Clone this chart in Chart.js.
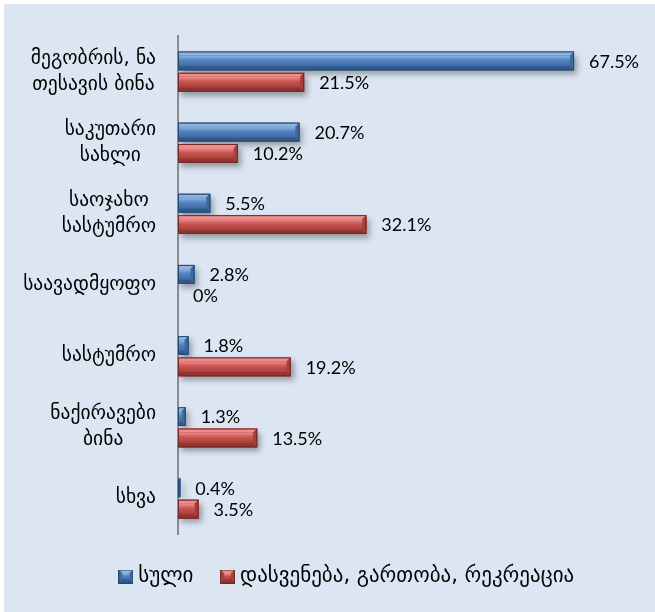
<!DOCTYPE html>
<html>
<head>
<meta charset="utf-8">
<script src="https://cdn.jsdelivr.net/npm/chart.js@4"></script>
<style>
  html, body { margin: 0; padding: 0; background: #fff; }
  #wrap { width: 655px; height: 612px; position: relative; }
</style>
</head>
<body>
<div id="wrap"><canvas id="chart"></canvas></div>
<script>
// მონაცემები
const categories = [
  ['მეგობრის, ნა', 'თესავის ბინა'],
  ['საკუთარი', 'სახლი'],
  ['საოჯახო', 'სასტუმრო'],
  'საავადმყოფო',
  'სასტუმრო',
  ['ნაქირავები', 'ბინა'],
  'სხვა'
];
const seriesNames = ['სული', 'დასვენება, გართობა, რეკრეაცია'];
const totalValues = [67.5, 20.7, 5.5, 2.8, 1.8, 1.3, 0.4];
const leisureValues = [21.5, 10.2, 32.1, 0, 19.2, 13.5, 3.5];
const xMax = 81.3;

const GEO_FONT = "'DejaVu Sans', sans-serif";
const NUM_FONT = "Lato, 'Open Sans', sans-serif";

const palettes = [
  { light: '#8fb3e0', face: '#5283c0', dark: '#315a8c', side: '#3d6aa3', edge: '#27476f' },
  { light: '#ec8f8c', face: '#c9534f', dark: '#913533', side: '#a83f3c', edge: '#722826' }
];

// 3D ზოლის დახატვა
function drawBevel(ctx, l, t, r, b, pal, leftBevel) {
  const w = r - l, h = b - t;
  if (w <= 0) return;
  const bv = Math.min(4, h / 3, w / 2);
  const lb = leftBevel ? bv : 0;
  ctx.save();
  ctx.fillStyle = pal.dark;
  ctx.fillRect(l, t, w, h);
  const poly = (pts, color) => {
    ctx.beginPath();
    ctx.moveTo(pts[0][0], pts[0][1]);
    pts.slice(1).forEach(p => ctx.lineTo(p[0], p[1]));
    ctx.closePath();
    ctx.fillStyle = color;
    ctx.fill();
  };
  poly([[l, t], [r, t], [r - bv, t + bv], [l + lb, t + bv]], pal.light);
  poly([[l, b], [r, b], [r - bv, b - bv], [l + lb, b - bv]], pal.dark);
  poly([[r, t], [r, b], [r - bv, b - bv], [r - bv, t + bv]], pal.side);
  if (leftBevel) poly([[l, t], [l, b], [l + bv, b - bv], [l + bv, t + bv]], pal.side);
  const g = ctx.createLinearGradient(0, t + bv, 0, b - bv);
  g.addColorStop(0, pal.light);
  g.addColorStop(0.45, pal.face);
  g.addColorStop(1, pal.side);
  ctx.fillStyle = g;
  ctx.fillRect(l + lb, t + bv, Math.max(0, w - bv - lb), Math.max(0, h - 2 * bv));
  ctx.strokeStyle = pal.edge;
  ctx.lineWidth = 1;
  ctx.strokeRect(l + 0.5, t + 0.5, Math.max(0, w - 1), h - 1);
  ctx.restore();
}

// ლეგენდის ნიშნები
const legendIcons = palettes.map(pal => {
  const c = document.createElement('canvas');
  c.width = 15; c.height = 14;
  drawBevel(c.getContext('2d'), 0, 0, 15, 14, pal, true);
  return c;
});

const panelPlugin = {
  id: 'panel',
  beforeDraw(chart) {
    const ctx = chart.ctx;
    ctx.save();
    ctx.fillStyle = '#fff';
    ctx.fillRect(0, 0, chart.width, chart.height);
    ctx.fillStyle = '#dce6f2';
    ctx.fillRect(4, 4, chart.width - 4, chart.height - 4);
    ctx.restore();
  }
};

const bevelPlugin = {
  id: 'bevel',
  beforeDatasetsDraw(chart) {
    const ctx = chart.ctx;
    ctx.save();
    ctx.shadowColor = 'rgba(0,0,0,0.35)';
    ctx.shadowBlur = 6;
    ctx.shadowOffsetX = 3;
    ctx.shadowOffsetY = 4;
  },
  afterDatasetsDraw(chart) {
    const ctx = chart.ctx;
    ctx.restore();
    chart.data.datasets.forEach((ds, di) => {
      const meta = chart.getDatasetMeta(di);
      meta.data.forEach(el => {
        const p = el.getProps(['x', 'y', 'base', 'height'], true);
        drawBevel(ctx, p.base, p.y - p.height / 2, p.x, p.y + p.height / 2, palettes[di], false);
      });
    });
    // მნიშვნელობები
    ctx.save();
    ctx.font = '18px ' + NUM_FONT;
    ctx.fillStyle = '#000';
    ctx.textAlign = 'left';
    ctx.textBaseline = 'middle';
    chart.data.datasets.forEach((ds, di) => {
      chart.getDatasetMeta(di).data.forEach((el, i) => {
        const p = el.getProps(['x', 'y'], true);
        ctx.fillText(ds.data[i] + '%', p.x + 15, p.y + 1);
      });
    });
    ctx.restore();
  }
};

const catLabelPlugin = {
  id: 'catLabels',
  afterDraw(chart) {
    const ctx = chart.ctx;
    const yScale = chart.scales.y;
    const right = chart.chartArea.left - 22;
    ctx.save();
    ctx.font = '19.5px ' + GEO_FONT;
    ctx.fillStyle = '#000';
    ctx.textAlign = 'center';
    ctx.textBaseline = 'middle';
    categories.forEach((cat, i) => {
      const lines = Array.isArray(cat) ? cat : [cat];
      const bw = Math.max(...lines.map(s => ctx.measureText(s).width));
      const cx = right - bw / 2;
      const cy = yScale.getPixelForValue(i);
      lines.forEach((s, j) => {
        ctx.fillText(s, cx, cy + (j - (lines.length - 1) / 2) * 26);
      });
    });
    ctx.restore();
  }
};

new Chart(document.getElementById('chart'), {
  type: 'bar',
  data: {
    labels: categories,
    datasets: [
      { label: seriesNames[0], data: totalValues, backgroundColor: palettes[0].dark, borderWidth: 0 },
      { label: seriesNames[1], data: leisureValues, backgroundColor: palettes[1].dark, borderWidth: 0 }
    ]
  },
  options: {
    indexAxis: 'y',
    responsive: true,
    maintainAspectRatio: false,
    animation: false,
    categoryPercentage: 0.6,
    barPercentage: 0.88,
    layout: { padding: { left: 43, right: 0, top: 36, bottom: 15 } },
    scales: {
      x: {
        min: 0, max: xMax,
        ticks: { display: false },
        grid: { display: false },
        border: { display: false },
        afterFit(scale) { scale.height = 0; }
      },
      y: {
        ticks: { display: false },
        grid: { display: false },
        border: { display: true, color: '#8c8c8c', width: 2 },
        afterFit(scale) { scale.width = 135; }
      }
    },
    plugins: {
      tooltip: { enabled: false },
      legend: {
        position: 'bottom',
        labels: {
          usePointStyle: true,
          boxWidth: 4,
          boxHeight: 14,
          padding: 32,
          color: '#000',
          font: { size: 21, family: GEO_FONT },
          generateLabels(chart) {
            return chart.data.datasets.map((ds, i) => ({
              text: ds.label,
              pointStyle: legendIcons[i],
              datasetIndex: i,
              hidden: false,
              lineWidth: 0,
              fillStyle: ds.backgroundColor,
              strokeStyle: 'transparent',
              fontColor: '#000'
            }));
          }
        }
      }
    }
  },
  plugins: [panelPlugin, bevelPlugin, catLabelPlugin]
});
</script>
</body>
</html>
